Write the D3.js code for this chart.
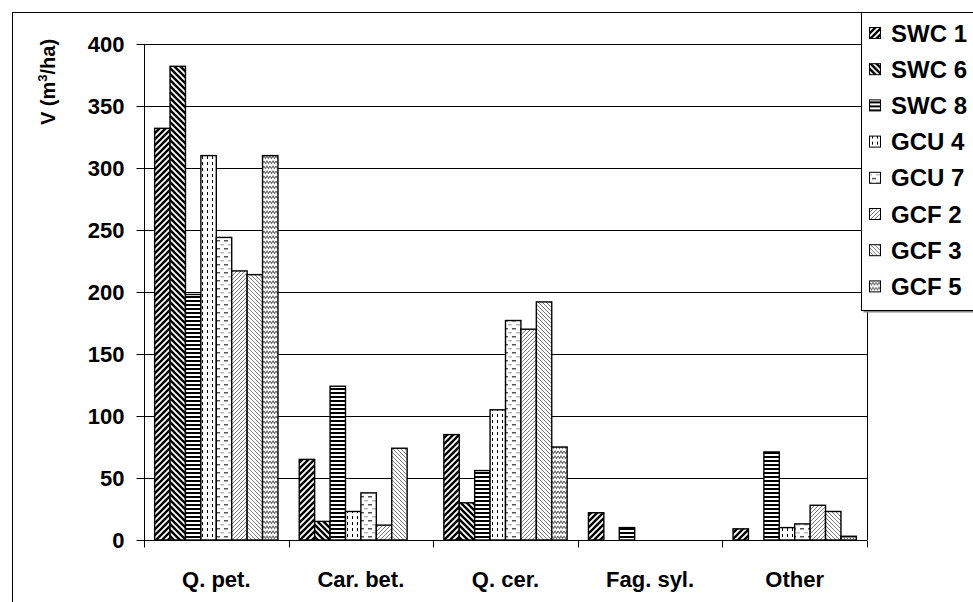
<!DOCTYPE html>
<html><head><meta charset="utf-8">
<script src="https://cdn.jsdelivr.net/npm/d3@7"></script>
<style>
body{margin:0;background:#fff;}
text{font-family:"Liberation Sans",Arial,sans-serif;font-weight:bold;fill:#000;}
</style></head>
<body>
<svg id="c" width="973" height="602"></svg>
<script>
const categories = ["Q. pet.", "Car. bet.", "Q. cer.", "Fag. syl.", "Other"];
const seriesNames = ["SWC 1","SWC 6","SWC 8","GCU 4","GCU 7","GCF 2","GCF 3","GCF 5"];
const SWC1 = [332, 65, 85, 22, 9];
const SWC6 = [382, 15, 30, 0, 0];
const SWC8 = [198, 124, 56, 10, 71];
const GCU4 = [310, 23, 105, 0, 10];
const GCU7 = [244, 38, 177, 0, 13];
const GCF2 = [217, 12, 170, 0, 28];
const GCF3 = [214, 74, 192, 0, 23];
const GCF5 = [310, 0, 75, 0, 3];
const seriesValues = [SWC1,SWC6,SWC8,GCU4,GCU7,GCF2,GCF3,GCF5];
const yTicks = [0,50,100,150,200,250,300,350,400];

const svg = d3.select("#c");
const L = 144, R = 867, T = 44, B = 540;

// outer frame
svg.append("rect").attr("x",12.5).attr("y",12.5).attr("width",1000).attr("height",700)
  .attr("fill","#fff").attr("stroke","#000").attr("stroke-width",1);

// patterns
const defs = svg.append("defs");
function pat(id,w,h,draw){
  const p = defs.append("pattern").attr("id",id).attr("patternUnits","userSpaceOnUse")
    .attr("width",w).attr("height",h);
  p.append("rect").attr("width",w).attr("height",h).attr("fill","#fff");
  draw(p);
}
pat("p0",6,6,p=>{ // bold "/"
  p.append("path").attr("d","M-1,7 L7,-1 M-4,4 L4,-4 M2,10 L10,2").attr("stroke","#000").attr("stroke-width",2.4);
});
pat("p1",6,6,p=>{ // bold "\"
  p.append("path").attr("d","M-1,-1 L7,7 M-4,2 L4,10 M2,-4 L10,4").attr("stroke","#000").attr("stroke-width",2.4);
});
pat("p2",4,4,p=>{ // horizontal
  p.append("rect").attr("x",0).attr("y",0).attr("width",4).attr("height",2).attr("fill","#000");
});
pat("p3",5,6,p=>{ // vertical dashed
  p.append("rect").attr("x",2).attr("y",0).attr("width",1).attr("height",3).attr("fill","#000");
});
pat("p4",8,8,p=>{ // dashed horizontal
  p.append("rect").attr("x",0).attr("y",0).attr("width",4).attr("height",1.5).attr("fill","#555");
  p.append("rect").attr("x",4).attr("y",4).attr("width",4).attr("height",1.5).attr("fill","#bbb");
});
pat("p5",4,4,p=>{ // light "/"
  p.append("path").attr("d","M0,4 L4,0 M-1,1 L1,-1 M3,5 L5,3").attr("stroke","#666").attr("stroke-width",0.9);
});
pat("p6",4,4,p=>{ // light "\"
  p.append("path").attr("d","M0,0 L4,4 M-1,3 L1,5 M3,-1 L5,1").attr("stroke","#666").attr("stroke-width",0.9);
});
pat("p7",6,5,p=>{ // zigzag
  p.append("path").attr("d","M0,1 L1.5,3.5 L3,1 L4.5,3.5 L6,1").attr("fill","none").attr("stroke","#666").attr("stroke-width",1.1);
});

const x0 = d3.scaleBand().domain(categories).range([L,R]).paddingInner(0).paddingOuter(0);
const x1 = d3.scaleBand().domain(seriesNames).range([0,x0.bandwidth()]).paddingInner(0).paddingOuter(0.69);
const y = d3.scaleLinear().domain([0,400]).range([B,T]);

// gridlines
svg.append("g").selectAll("line").data(yTicks.filter(d=>d>0)).join("line")
  .attr("x1",L).attr("x2",R).attr("y1",d=>Math.round(y(d))+0.5).attr("y2",d=>Math.round(y(d))+0.5)
  .attr("stroke","#000").attr("stroke-width",1);
// plot right border
svg.append("line").attr("x1",R+0.5).attr("x2",R+0.5).attr("y1",T).attr("y2",B).attr("stroke","#000");

// bars
const rows = [];
categories.forEach((c,ci)=>seriesNames.forEach((s,si)=>rows.push({c,s,si,v:seriesValues[si][ci]})));
svg.append("g").selectAll("rect").data(rows.filter(d=>d.v>0)).join("rect")
  .attr("x",d=>x0(d.c)+x1(d.s)).attr("width",x1.bandwidth())
  .attr("y",d=>y(d.v)).attr("height",d=>y(0)-y(d.v))
  .attr("fill",d=>`url(#p${d.si})`).attr("stroke","#000").attr("stroke-width",1.4);

// y axis
const yAxis = svg.append("g").attr("transform",`translate(${L+0.5},0)`)
  .call(d3.axisLeft(y).tickValues(yTicks).tickSize(8).tickPadding(12).tickSizeOuter(0));
yAxis.select(".domain").remove();
yAxis.append("line").attr("x1",0).attr("x2",0).attr("y1",T).attr("y2",B+7).attr("stroke","#000");
yAxis.selectAll("text").attr("font-size",22).attr("font-family","Liberation Sans, Arial, sans-serif").attr("font-weight","bold").attr("fill","#000");
yAxis.selectAll(".tick line").attr("stroke","#000");

// x axis
const xg = svg.append("g").attr("transform",`translate(0,${B+0.5})`);
xg.append("line").attr("x1",L).attr("x2",R).attr("stroke","#000");
const sep = d3.range(categories.length+1).map(i=>L+i*x0.step());
xg.selectAll("line.t").data(sep).join("line").attr("class","t")
  .attr("x1",d=>Math.round(d)+0.5).attr("x2",d=>Math.round(d)+0.5).attr("y1",0).attr("y2",7).attr("stroke","#000");
xg.selectAll("text").data(categories).join("text")
  .attr("x",d=>x0(d)+x0.bandwidth()/2).attr("y",46).attr("text-anchor","middle")
  .attr("font-size",22).text(d=>d);

// y title
const yt = svg.append("text").attr("transform","translate(55,82) rotate(-90)").attr("text-anchor","middle").attr("font-size",20);
yt.append("tspan").text("V (m");
yt.append("tspan").attr("font-size",13).attr("dy",-8).text("3");
yt.append("tspan").attr("dy",8).text("/ha)");

// legend
const lg = svg.append("g");
lg.append("rect").attr("x",863.5).attr("y",14.5).attr("width",130).attr("height",298).attr("fill","#888");
lg.append("rect").attr("x",861.5).attr("y",12.5).attr("width",130).attr("height",298).attr("fill","#fff").attr("stroke","#000");
const li = lg.selectAll("g.it").data(seriesNames).join("g").attr("class","it")
  .attr("transform",(d,i)=>`translate(0,${33+i*36.2})`);
li.append("rect").attr("x",869.5).attr("y",-5.5).attr("width",11).attr("height",11)
  .attr("fill",(d,i)=>`url(#p${i})`).attr("stroke","#000");
li.append("text").attr("x",891).attr("y",8.5).attr("font-size",24).text(d=>d);
</script>
</body></html>
